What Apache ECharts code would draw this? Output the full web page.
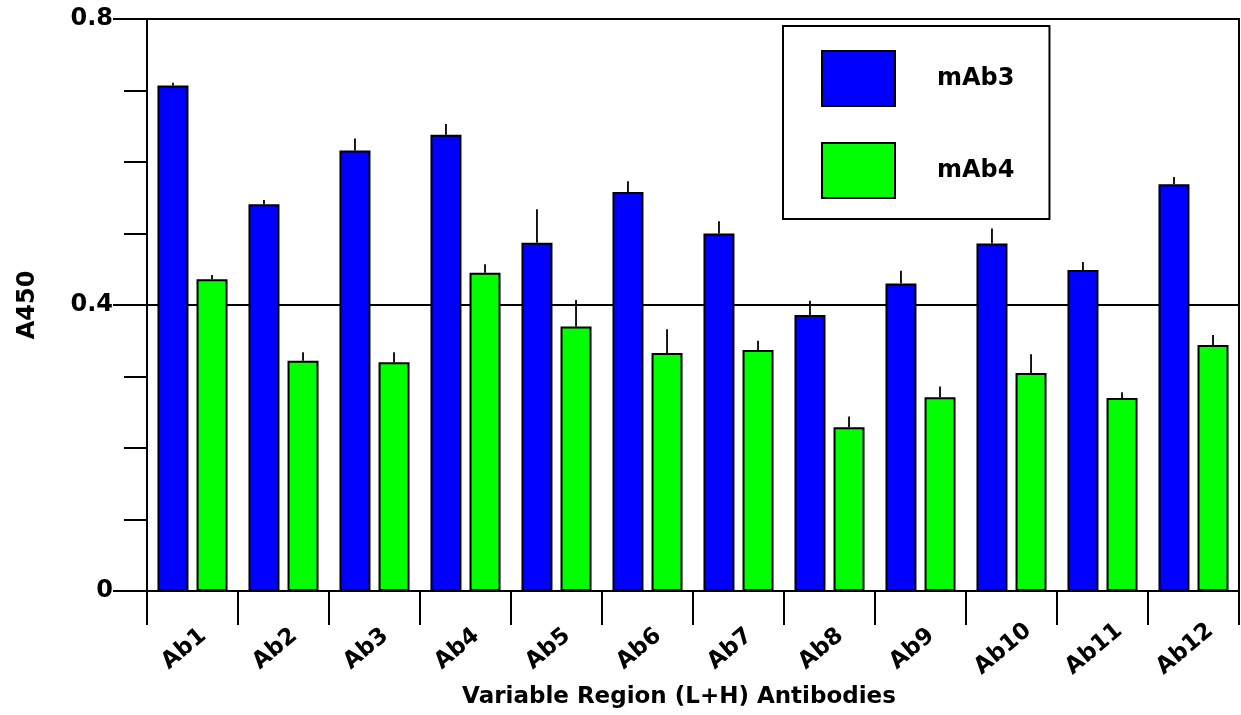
<!DOCTYPE html>
<html>
<head>
<meta charset="utf-8">
<script src="https://cdn.jsdelivr.net/npm/echarts@6/dist/echarts.min.js"></script>
<style>html,body{margin:0;padding:0;background:#fff;}#c{width:1241px;height:715px;}</style>
</head>
<body>
<div id="c"></div>
<script>
const categories = ['Ab1','Ab2','Ab3','Ab4','Ab5','Ab6','Ab7','Ab8','Ab9','Ab10','Ab11','Ab12'];
const mAb3 = [0.707,0.541,0.616,0.638,0.487,0.558,0.500,0.386,0.430,0.486,0.449,0.569];
const mAb3Err = [0.004,0.006,0.017,0.015,0.047,0.015,0.017,0.020,0.018,0.021,0.011,0.010];
const mAb4 = [0.436,0.322,0.320,0.445,0.370,0.333,0.337,0.229,0.271,0.305,0.270,0.344];
const mAb4Err = [0.006,0.012,0.014,0.012,0.037,0.033,0.013,0.015,0.015,0.026,0.008,0.014];
const yTickLabels = {'0':'0','0.4':'0.4','0.8':'0.8'};

const FONT = 'DejaVu Sans';
const BAR_W = 31, BAR_GAP = 0.26;
const OFFSET = (BAR_W + BAR_W * BAR_GAP) / 2;

function errSeries(name, vals, errs, dir) {
  return {
    type: 'custom',
    name: name + ' err',
    data: vals.map((v, i) => [i, v, v + errs[i]]),
    z: 5,
    silent: true,
    renderItem: function (params, api) {
      const i = api.value(0);
      const p0 = api.coord([i, api.value(1)]);
      const p1 = api.coord([i, api.value(2)]);
      const x = p0[0] + dir * OFFSET;
      return {
        type: 'line',
        shape: { x1: x, y1: p0[1], x2: x, y2: p1[1] },
        style: { stroke: '#000', lineWidth: 1.8 }
      };
    }
  };
}

const chart = echarts.init(document.getElementById('c'));
chart.setOption({
  animation: false,
  backgroundColor: '#fff',
  grid: { left: 147, right: 2, top: 19, bottom: 124, show: true, borderColor: '#000', borderWidth: 2, containLabel: false },
  legend: {
    orient: 'vertical',
    left: 783, top: 26,
    data: ['mAb3', 'mAb4'],
    icon: 'rect',
    itemWidth: 73, itemHeight: 55, itemGap: 35,
    padding: [24, 35, 20, 38],
    borderColor: '#000', borderWidth: 2,
    textStyle: { fontFamily: FONT, fontSize: 24, fontWeight: 'bold', color: '#000', padding: [0, 0, 0, 37] }
  },
  xAxis: {
    type: 'category',
    data: categories,
    axisLine: { lineStyle: { color: '#000', width: 2 } },
    axisTick: { show: true, length: 34, interval: 0, lineStyle: { color: '#000', width: 2 } },
    axisLabel: {
      interval: 0, rotate: 40, align: 'center', verticalAlign: 'middle',
      padding: [0, 22, 0, 0], margin: 51,
      fontFamily: FONT, fontSize: 23, fontWeight: 'bold', color: '#000'
    },
    name: 'Variable Region (L+H) Antibodies',
    nameLocation: 'middle', nameGap: 95,
    nameTextStyle: { fontFamily: FONT, fontSize: 23, fontWeight: 'bold', color: '#000', padding: [0, 28, 0, 0] }
  },
  yAxis: {
    type: 'value',
    min: 0, max: 0.8, interval: 0.4,
    axisLine: { show: true, lineStyle: { color: '#000', width: 2 } },
    axisTick: { show: true, length: 34, lineStyle: { color: '#000', width: 2 } },
    minorTick: { show: true, splitNumber: 4, length: 23, lineStyle: { color: '#000', width: 2 } },
    splitLine: { show: true, lineStyle: { color: '#000', width: 2 } },
    axisLabel: {
      margin: 34,
      formatter: v => yTickLabels[String(+v.toFixed(1))] ?? '',
      fontFamily: FONT, fontSize: 24, fontWeight: 'bold', color: '#000'
    },
    name: 'A450',
    nameLocation: 'middle', nameRotate: 90, nameGap: 107,
    nameTextStyle: { fontFamily: FONT, fontSize: 24, fontWeight: 'bold', color: '#000' }
  },
  series: [
    { name: 'mAb3', type: 'bar', data: mAb3, barWidth: BAR_W, barGap: (BAR_GAP * 100) + '%',
      itemStyle: { color: '#0000FF', borderColor: '#000', borderWidth: 2 } },
    { name: 'mAb4', type: 'bar', data: mAb4, barWidth: BAR_W,
      itemStyle: { color: '#00FF00', borderColor: '#000', borderWidth: 2 } },
    errSeries('mAb3', mAb3, mAb3Err, -1),
    errSeries('mAb4', mAb4, mAb4Err, 1)
  ]
});
</script>
</body>
</html>
